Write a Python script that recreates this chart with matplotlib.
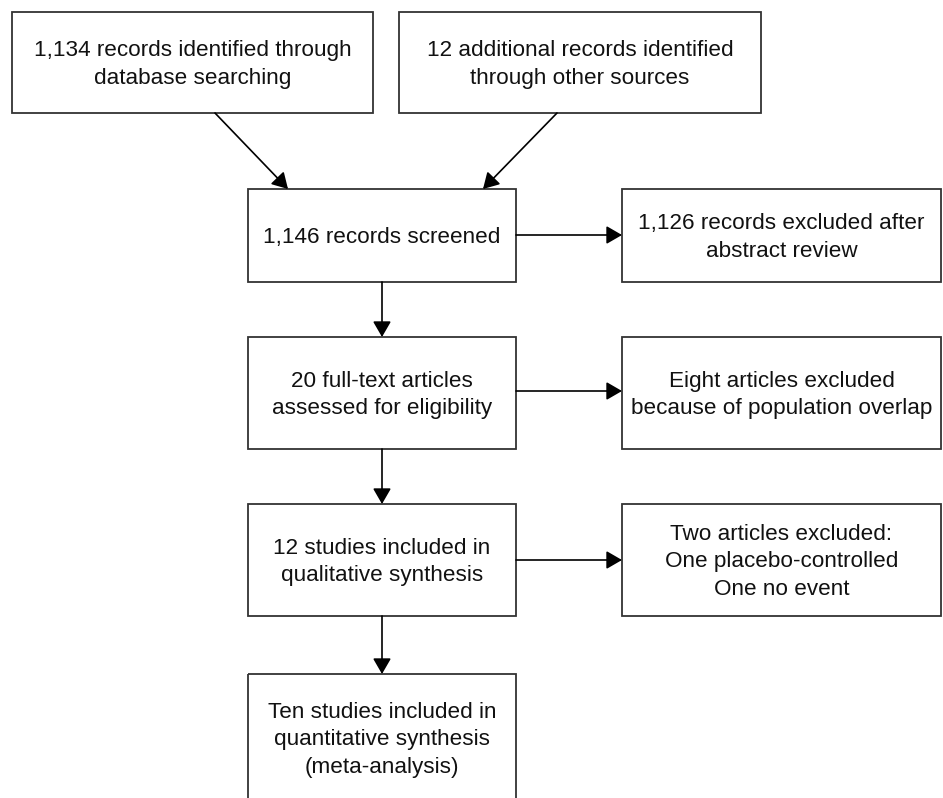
import matplotlib.pyplot as plt
from matplotlib.patches import Rectangle

plt.rcParams['font.family'] = ['Liberation Sans', 'DejaVu Sans']

# box labels (PRISMA flow)
labels = [
    '1,134 records identified through\ndatabase searching',
    '12 additional records identified\nthrough other sources',
    '1,146 records screened',
    '1,126 records excluded after\nabstract review',
    '20 full-text articles\nassessed for eligibility',
    'Eight articles excluded\nbecause of population overlap',
    '12 studies included in\nqualitative synthesis',
    'Two articles excluded:\nOne placebo-controlled\nOne no event',
    'Ten studies included in\nquantitative synthesis\n(meta-analysis)',
]

# layout in pixels: x0, x1, y0, y1 (y down)
boxes = [
    (12, 373, 12, 113),
    (399, 761, 12, 113),
    (248, 516, 189, 282),
    (622, 941, 189, 282),
    (248, 516, 337, 449),
    (622, 941, 337, 449),
    (248, 516, 504, 616),
    (622, 941, 504, 616),
    (248, 516, 674, 802),
]

# arrows: (start, end)
arrows = [
    ((215, 113), (288, 189)),
    ((557, 113), (483, 189)),
    ((516, 235), (622, 235)),
    ((382, 282), (382, 337)),
    ((516, 391), (622, 391)),
    ((382, 449), (382, 504)),
    ((516, 560), (622, 560)),
    ((382, 616), (382, 674)),
]

W, H = 943, 798
fig = plt.figure(figsize=(W / 100, H / 100), dpi=100)
ax = fig.add_axes([0, 0, 1, 1])
ax.set_xlim(0, W)
ax.set_ylim(H, 0)
ax.axis('off')

edge = '#333333'
for (x0, x1, y0, y1), txt in zip(boxes, labels):
    ax.add_patch(Rectangle((x0, y0), x1 - x0, y1 - y0, fill=False,
                           edgecolor=edge, linewidth=1.3))
    yc = (y0 + y1) / 2 + 2
    ax.text((x0 + x1) / 2, yc, txt, ha='center', va='center',
            fontsize=16.2, color='#111111', linespacing=1.38)

for (p0, p1) in arrows:
    ax.annotate('', xy=p1, xytext=p0,
                arrowprops=dict(arrowstyle='-|>,head_length=0.95,head_width=0.55',
                                mutation_scale=10, color='black', lw=1.2,
                                shrinkA=0, shrinkB=0))

fig.savefig('out.png', dpi=100)
